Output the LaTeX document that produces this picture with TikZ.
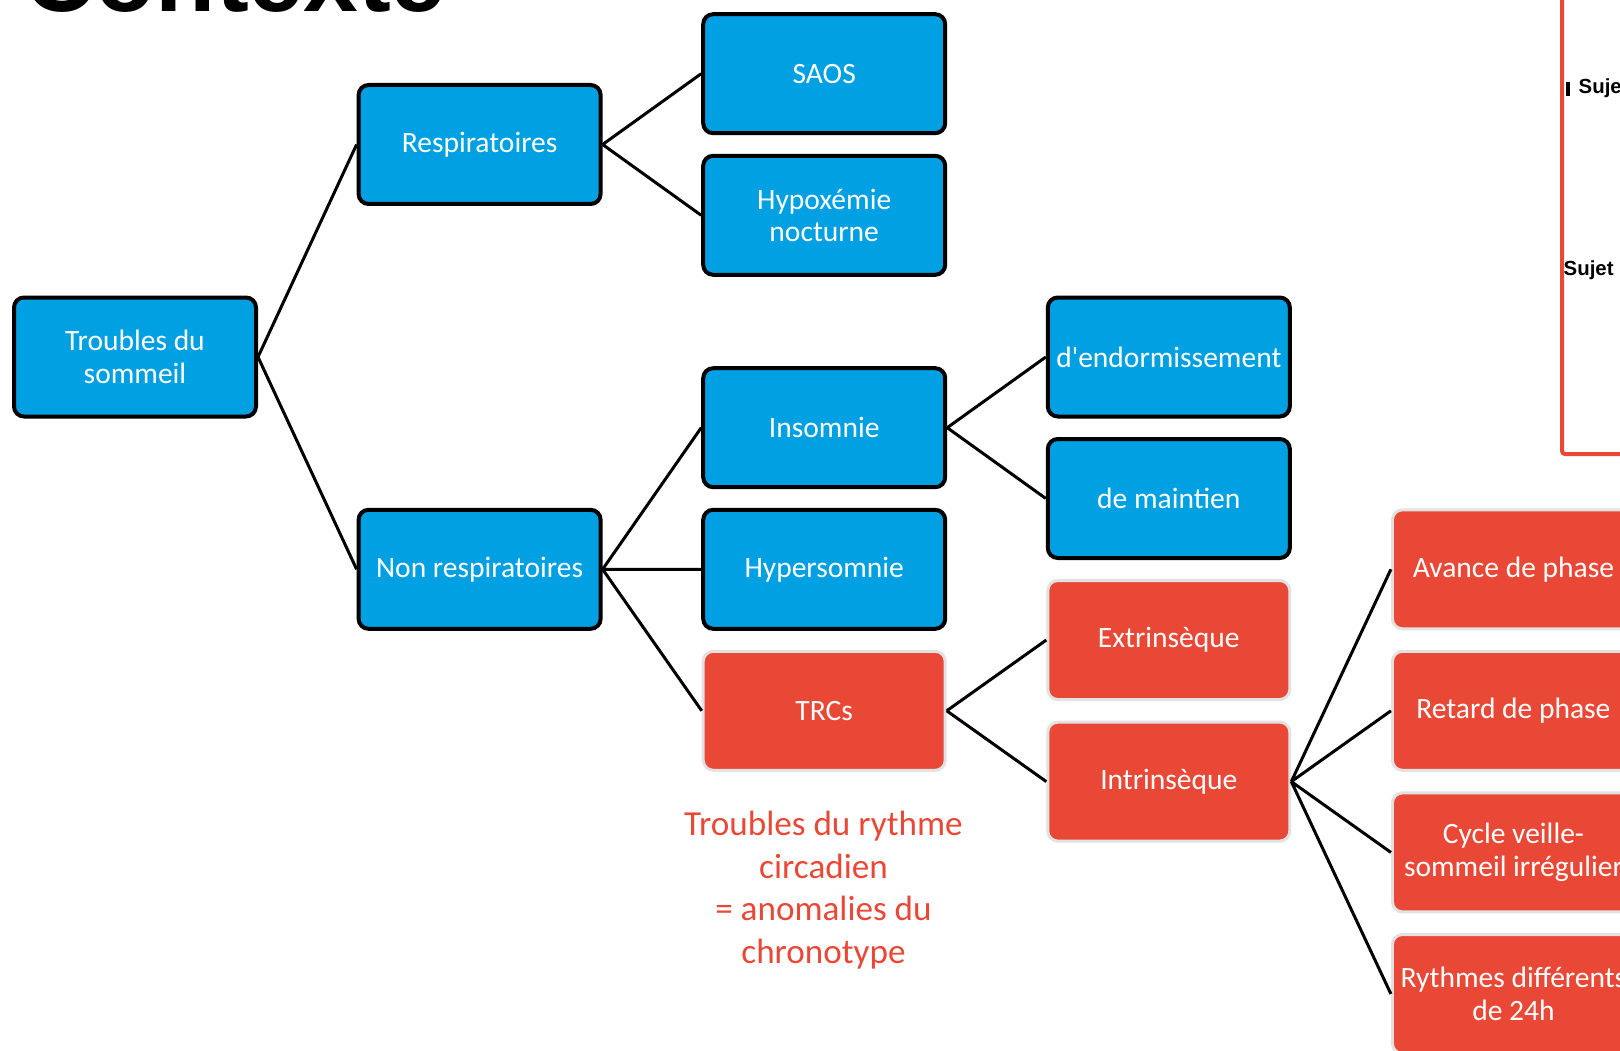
\documentclass[tikz,border=0pt]{standalone}
\usepackage{fontspec}
\setmainfont{Carlito}
\newfontfamily\headfont{Liberation Sans}
\definecolor{boxblue}{RGB}{0,160,227}
\definecolor{boxred}{RGB}{234,72,54}
\definecolor{rimgrey}{RGB}{226,226,226}

\begin{document}
\begin{tikzpicture}[
  bluebox/.style={draw=black,line width=0.04cm,fill=boxblue,rounded corners=0.1cm,
    minimum width=2.42cm,minimum height=1.19cm,inner sep=1pt,
    text=white,align=center,font=\fontsize{8.4}{9.2}\selectfont},
  redbox/.style={bluebox,draw=rimgrey,line width=0.03cm,fill=boxred},
  link/.style={line width=0.03cm}]
  \useasboundingbox (0,0) rectangle (16.2,10.5);
  \clip (0,0) rectangle (16.2,10.5);

  % title cut at the top of the slide
  \node[anchor=base west,inner sep=0,font=\headfont\bfseries\fontsize{28}{30}\selectfont] (title) at (0.24,10.38) {Contexte};

  % frame of the next panel
  \draw[boxred,line width=0.04cm,rounded corners=0.03cm] (16.5,5.96) -- (15.62,5.96) -- (15.62,10.7);
  \fill (15.66,9.54) rectangle (15.70,9.68);
  \node[anchor=west,inner sep=0,font=\headfont\bfseries\fontsize{5.8}{6}\selectfont] (sujeta) at (15.78,9.62) {Sujet};
  \node[anchor=west,inner sep=0,font=\headfont\bfseries\fontsize{5.8}{6}\selectfont] (sujetb) at (15.63,7.80) {Sujet};

  % tree
  \node[bluebox] (trb) at (1.35,6.93) {Troubles du\\sommeil};
  \node[bluebox] (resp) at (4.796,9.055) {Respiratoires};
  \node[bluebox] (nonresp) at (4.796,4.807) {Non respiratoires};

  \node[bluebox] (saos) at (8.242,9.763) {SAOS};
  \node[bluebox] (hypox) at (8.242,8.347) {Hypoxémie\\nocturne};
  \node[bluebox] (insom) at (8.242,6.223) {Insomnie};
  \node[bluebox] (hyper) at (8.242,4.807) {Hypersomnie};
  \node[redbox] (trc) at (8.242,3.392) {TRCs};

  \node[bluebox] (endorm) at (11.688,6.93) {d\textquotesingle endormissement};
  \node[bluebox] (maint) at (11.688,5.515) {de maintien};
  \node[redbox] (extr) at (11.688,4.1) {Extrinsèque};
  \node[redbox] (intr) at (11.688,2.684) {Intrinsèque};

  \node[redbox] (avance) at (15.134,4.807) {Avance de phase};
  \node[redbox] (retard) at (15.134,3.392) {Retard de phase};
  \node[redbox] (cycle) at (15.134,1.976) {Cycle veille-\\sommeil irrégulier};
  \node[redbox] (rythm) at (15.134,0.56) {Rythmes différents\\de 24h};

  \node[text=boxred,align=center,font=\fontsize{10}{12.1}\selectfont] (trcnote) at (8.235,1.6)
    {Troubles du rythme\\circadien\\= anomalies du\\chronotype};

  \draw[link] (trb.east) -- (resp.west) (trb.east) -- (nonresp.west);
  \draw[link] (resp.east) -- (saos.west) (resp.east) -- (hypox.west);
  \draw[link] (nonresp.east) -- (insom.west) (nonresp.east) -- (hyper.west) (nonresp.east) -- (trc.west);
  \draw[link] (insom.east) -- (endorm.west) (insom.east) -- (maint.west);
  \draw[link] (trc.east) -- (extr.west) (trc.east) -- (intr.west);
  \draw[link] (intr.east) -- (avance.west) (intr.east) -- (retard.west)
    (intr.east) -- (cycle.west) (intr.east) -- (rythm.west);
\end{tikzpicture}
\end{document}
